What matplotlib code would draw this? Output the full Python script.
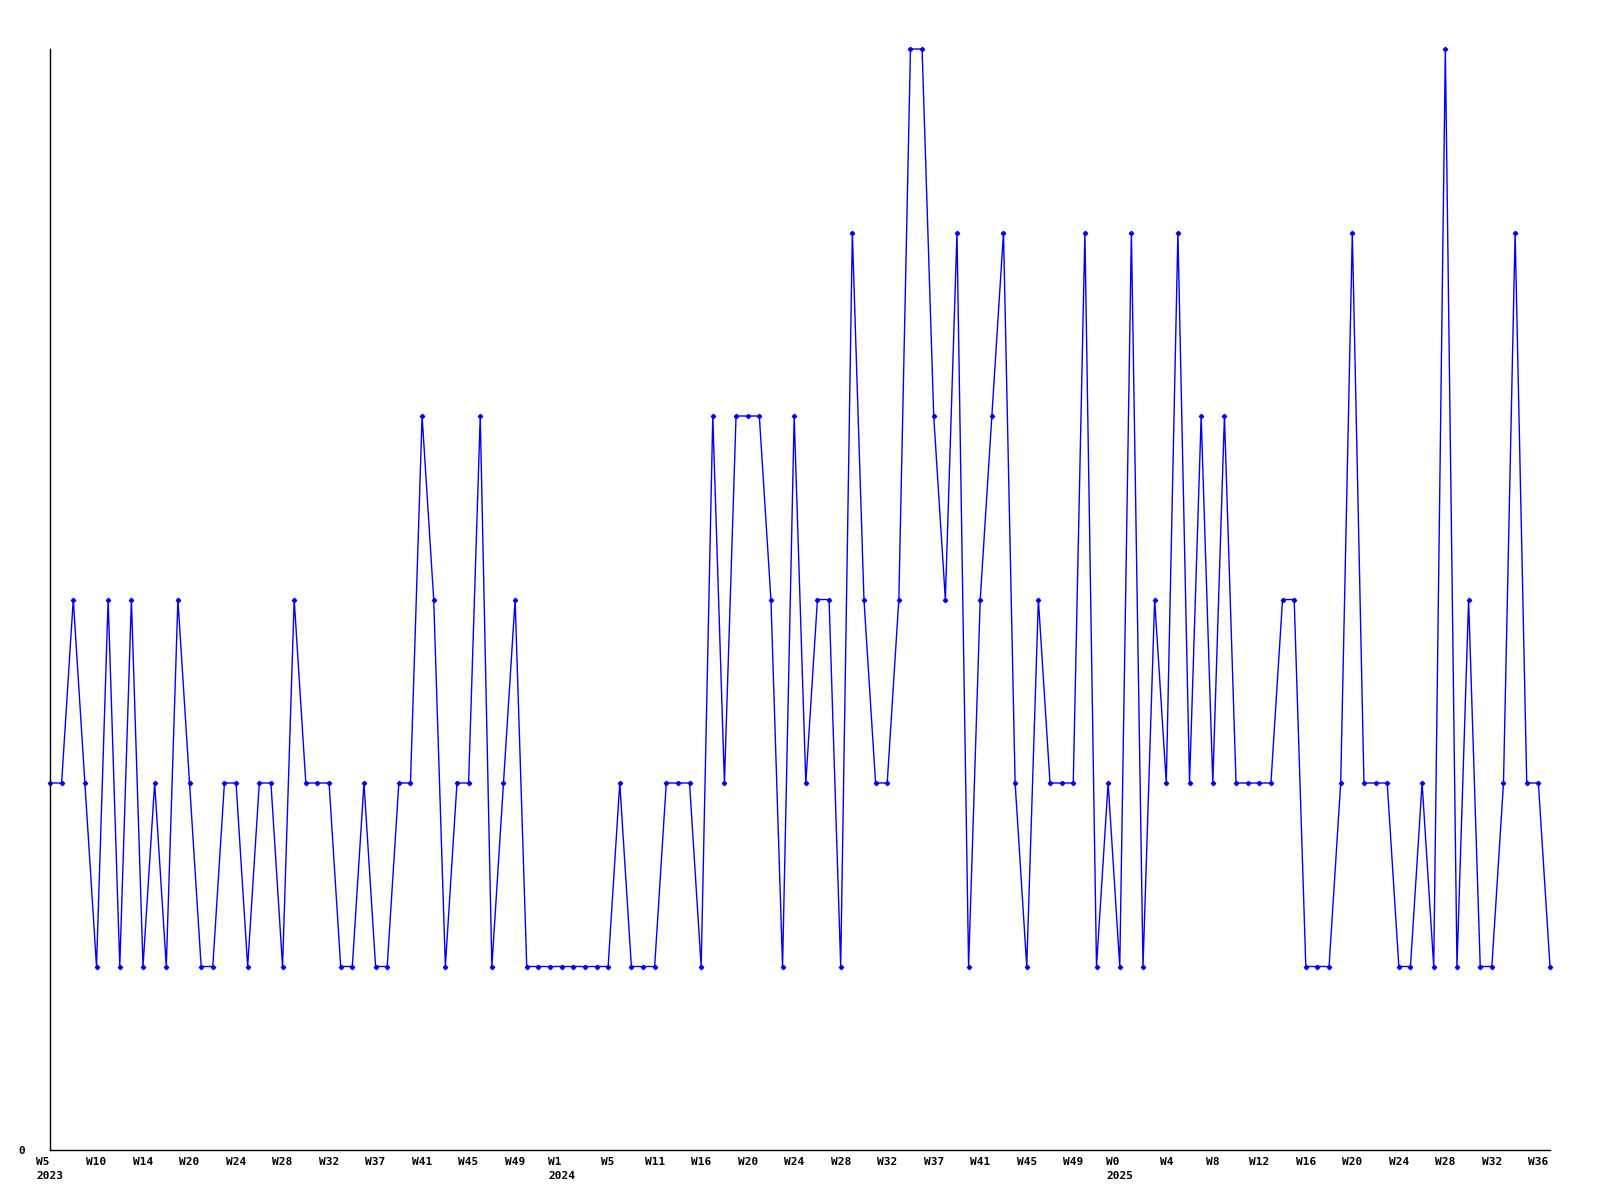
import matplotlib
matplotlib.use("Agg")
import matplotlib.pyplot as plt
import matplotlib.transforms as mtransforms
import numpy as np

values = [2, 2, 3, 2, 1, 3, 1, 3, 1, 2,
          1, 3, 2, 1, 1, 2, 2, 1, 2, 2,
          1, 3, 2, 2, 2, 1, 1, 2, 1, 1,
          2, 2, 4, 3, 1, 2, 2, 4, 1, 2,
          3, 1, 1, 1, 1, 1, 1, 1, 1, 2,
          1, 1, 1, 2, 2, 2, 1, 4, 2, 4,
          4, 4, 3, 1, 4, 2, 3, 3, 1, 5,
          3, 2, 2, 3, 6, 6, 4, 3, 5, 1,
          3, 4, 5, 2, 1, 3, 2, 2, 2, 5,
          1, 2, 1, 5, 1, 3, 2, 5, 2, 4,
          2, 4, 2, 2, 2, 2, 3, 3, 1, 1,
          1, 2, 5, 2, 2, 2, 1, 1, 2, 1,
          6, 1, 3, 1, 1, 2, 5, 2, 2, 1]

tick_weeks = ["W5", "W10", "W14", "W20", "W24", "W28", "W32", "W37", "W41", "W45", "W49",
              "W1", "W5", "W11", "W16", "W20", "W24", "W28", "W32", "W37", "W41", "W45", "W49",
              "W0", "W4", "W8", "W12", "W16", "W20", "W24", "W28", "W32", "W36"]
tick_years = {0: "2023", 11: "2024", 23: "2025"}
tick_step = 4

fig = plt.figure(figsize=(16, 12), dpi=100)
ax = fig.add_axes([50 / 1600, 1 - 1150 / 1200, 1500 / 1600, (1150 - 49) / 1200])

x = np.arange(len(values))
ax.plot(x, values, color="#0000ff", linewidth=1.0, marker="D", markersize=2.2,
        markerfacecolor="#0000ff", markeredgecolor="#0000ff", clip_on=False)

ax.set_xlim(0, len(values) - 1)
ax.set_ylim(0, max(values))

for s in ["top", "right"]:
    ax.spines[s].set_visible(False)
for s in ["left", "bottom"]:
    ax.spines[s].set_color("black")
    ax.spines[s].set_linewidth(1.0)

font = dict(family="DejaVu Sans Mono", weight="bold", size=8)

ax.set_yticks([0])
ax.set_yticklabels(["0"], **font)
ax.tick_params(axis="y", length=0, pad=18)

positions = [i * tick_step for i in range(len(tick_weeks))]
labels = []
for k, w in enumerate(tick_weeks):
    if k in tick_years:
        labels.append(w + "\n" + tick_years[k])
    else:
        labels.append(w)
ax.set_xticks(positions)
ax.set_xticklabels(labels, **font)
offset = mtransforms.ScaledTranslation(3 / 100, 0, fig.dpi_scale_trans)
for t in ax.get_xticklabels():
    t.set_horizontalalignment("center")
    t.set_multialignment("left")
    t.set_linespacing(1.45)
    t.set_transform(t.get_transform() + offset)
ax.tick_params(axis="x", length=0, pad=5)

fig.savefig("out.png", dpi=100, facecolor="white")
